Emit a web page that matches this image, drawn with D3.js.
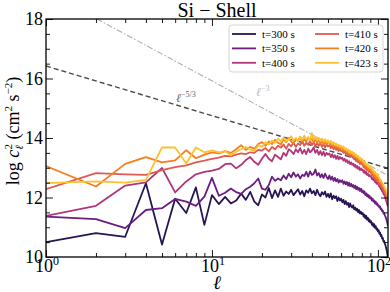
<!DOCTYPE html>
<html>
<head>
<meta charset="utf-8">
<script src="https://cdn.jsdelivr.net/npm/d3@7"></script>
<style>
  body { margin: 0; background: #fff; }
  text { font-family: "Liberation Serif", "DejaVu Serif", serif; fill: #000; }
</style>
</head>
<body>
<script>
// chart size and plot box
const width = 390;
const height = 292;
const plotMargins = {top: 19, right: 2, bottom: 35, left: 46};
const plotWidth = width - plotMargins.left - plotMargins.right;
const plotHeight = height - plotMargins.top - plotMargins.bottom;

// harmonic degree l = 1..115
const ell = d3.range(1, 116);

const seriesNames = ['t=300 s', 't=350 s', 't=400 s', 't=410 s', 't=420 s', 't=423 s'];
const seriesColors = ['#271454', '#6c1d80', '#b0367a', '#df5a52', '#f77d1e', '#fbc230'];

// log c_l^2, one value per l
const t300 = [10.50, 10.80, 10.68, 12.48, 10.42, 11.96, 11.48, 12.34, 11.08, 12.08,
  11.78, 12.02, 11.80, 11.90, 12.13, 11.92, 12.19, 11.86, 11.74, 12.10,
  12.00, 12.32, 11.98, 12.24, 12.02, 12.30, 12.06, 12.20, 12.12, 12.26,
  12.08, 12.18, 12.28, 12.10, 12.22, 12.04, 12.24, 12.16, 12.30, 12.14,
  12.22, 12.08, 12.26, 12.12, 12.04, 12.18, 12.10, 12.20, 12.02, 12.12,
  12.00, 12.14, 11.94, 12.06, 11.98, 12.04, 11.88, 12.00, 11.90, 11.96,
  11.84, 11.92, 11.78, 11.88, 11.76, 11.82, 11.68, 11.80, 11.70, 11.66,
  11.74, 11.60, 11.66, 11.56, 11.62, 11.50, 11.58, 11.46, 11.52, 11.44,
  11.48, 11.36, 11.42, 11.30, 11.38, 11.26, 11.32, 11.20, 11.26, 11.16,
  11.20, 11.08, 11.14, 11.02, 11.10, 10.98, 11.04, 10.92, 10.96, 10.86,
  10.90, 10.78, 10.82, 10.70, 10.74, 10.62, 10.64, 10.52, 10.54, 10.44,
  10.40, 10.30, 10.22, 10.10, 9.96];
const t350 = [11.36, 11.27, 10.97, 11.58, 11.64, 11.95, 11.86, 11.72, 12.03, 12.66,
  12.06, 12.16, 12.30, 12.18, 12.12, 12.28, 12.36, 12.48, 12.64, 12.30,
  12.26, 12.42, 12.70, 12.56, 12.64, 12.58, 12.74, 12.62, 12.80, 12.68,
  12.84, 12.70, 12.78, 12.64, 12.76, 12.72, 12.86, 12.70, 12.88, 12.76,
  12.80, 12.94, 12.74, 12.82, 12.68, 12.78, 12.66, 12.80, 12.70, 12.62,
  12.74, 12.60, 12.70, 12.56, 12.66, 12.54, 12.62, 12.50, 12.58, 12.52,
  12.58, 12.46, 12.54, 12.44, 12.52, 12.40, 12.50, 12.38, 12.46, 12.36,
  12.42, 12.32, 12.40, 12.28, 12.36, 12.26, 12.32, 12.22, 12.30, 12.18,
  12.24, 12.14, 12.20, 12.08, 12.14, 12.04, 12.10, 12.00, 12.06, 11.96,
  12.00, 11.90, 11.96, 11.86, 11.90, 11.80, 11.86, 11.76, 11.80, 11.72,
  11.74, 11.66, 11.70, 11.60, 11.62, 11.54, 11.56, 11.46, 11.48, 11.40,
  11.36, 11.30, 11.22, 11.14, 11.04];
const t400 = [11.38, 11.72, 12.40, 12.51, 12.99, 12.17, 12.54, 12.78, 12.86, 12.90,
  12.96, 13.12, 13.14, 12.98, 13.10, 13.26, 13.36, 13.20, 13.10, 13.30,
  13.46, 13.30, 13.22, 13.44, 13.36, 13.28, 13.50, 13.40, 13.62, 13.56,
  13.46, 13.62, 13.52, 13.66, 13.48, 13.60, 13.46, 13.64, 13.52, 13.58,
  13.68, 13.50, 13.60, 13.44, 13.56, 13.42, 13.54, 13.40, 13.50, 13.44,
  13.48, 13.36, 13.46, 13.34, 13.42, 13.30, 13.40, 13.28, 13.36, 13.30,
  13.34, 13.24, 13.30, 13.20, 13.26, 13.16, 13.22, 13.12, 13.18, 13.10,
  13.14, 13.04, 13.10, 13.00, 13.06, 12.96, 13.02, 12.92, 12.98, 12.92,
  12.94, 12.84, 12.90, 12.80, 12.86, 12.76, 12.80, 12.72, 12.76, 12.70,
  12.70, 12.62, 12.66, 12.58, 12.62, 12.52, 12.56, 12.46, 12.50, 12.46,
  12.42, 12.36, 12.38, 12.28, 12.30, 12.20, 12.22, 12.12, 12.10, 12.04,
  11.96, 11.90, 11.82, 11.76, 11.70];
const t410 = [12.28, 12.82, 12.78, 12.76, 12.92, 13.02, 13.08, 13.18, 13.24, 13.30,
  13.34, 13.40, 13.38, 13.44, 13.48, 13.46, 13.52, 13.50, 13.60, 13.58,
  13.66, 13.55, 13.70, 13.62, 13.74, 13.68, 13.78, 13.64, 13.80, 13.72,
  13.84, 13.70, 13.82, 13.76, 13.88, 13.74, 13.84, 13.78, 13.90, 13.76,
  13.86, 13.72, 13.84, 13.74, 13.82, 13.70, 13.80, 13.68, 13.78, 13.72,
  13.76, 13.66, 13.74, 13.62, 13.70, 13.60, 13.66, 13.56, 13.62, 13.56,
  13.58, 13.50, 13.56, 13.46, 13.50, 13.42, 13.46, 13.36, 13.42, 13.36,
  13.36, 13.28, 13.32, 13.22, 13.28, 13.18, 13.22, 13.12, 13.18, 13.12,
  13.10, 13.02, 13.06, 12.96, 13.02, 12.92, 12.96, 12.86, 12.90, 12.86,
  12.82, 12.74, 12.78, 12.68, 12.72, 12.62, 12.66, 12.56, 12.60, 12.58,
  12.52, 12.44, 12.46, 12.38, 12.40, 12.30, 12.32, 12.22, 12.22, 12.14,
  12.10, 12.02, 11.98, 11.92, 11.86];
const t420 = [13.06, 12.37, 13.13, 13.36, 13.18, 13.25, 13.59, 13.32, 13.44, 13.52,
  13.48, 13.56, 13.50, 13.62, 13.76, 13.60, 13.70, 13.64, 13.80, 13.86,
  13.74, 13.88, 13.80, 13.94, 13.84, 13.78, 13.96, 13.86, 14.00, 13.88,
  13.82, 13.98, 13.90, 14.04, 13.86, 13.96, 13.88, 14.02, 13.92, 13.98,
  13.86, 13.96, 13.84, 13.94, 13.82, 13.92, 13.80, 13.88, 13.78, 13.84,
  13.86, 13.76, 13.82, 13.72, 13.78, 13.68, 13.74, 13.64, 13.70, 13.66,
  13.66, 13.58, 13.62, 13.54, 13.58, 13.50, 13.54, 13.44, 13.50, 13.46,
  13.44, 13.36, 13.40, 13.32, 13.36, 13.26, 13.30, 13.20, 13.24, 13.22,
  13.18, 13.10, 13.14, 13.04, 13.08, 12.98, 13.02, 12.92, 12.96, 12.96,
  12.90, 12.82, 12.86, 12.76, 12.80, 12.70, 12.74, 12.64, 12.68, 12.70,
  12.62, 12.56, 12.58, 12.50, 12.50, 12.42, 12.42, 12.34, 12.34, 12.26,
  12.22, 12.16, 12.10, 12.04, 11.98];
const t423 = [12.48, 12.54, 12.50, 12.59, 13.68, 13.68, 13.14, 13.68, 13.52, 13.58,
  13.52, 13.56, 13.42, 13.54, 13.62, 13.70, 13.62, 13.56, 13.76, 13.70,
  13.86, 13.78, 13.92, 13.84, 13.98, 13.88, 14.02, 13.90, 13.96, 14.06,
  13.92, 14.00, 13.90, 14.04, 13.94, 14.08, 13.96, 14.02, 13.92, 14.16,
  13.94, 14.04, 13.92, 14.00, 13.90, 13.98, 13.88, 13.96, 13.86, 13.92,
  13.84, 13.90, 13.80, 13.86, 13.76, 13.82, 13.74, 13.78, 13.70, 13.74,
  13.68, 13.72, 13.62, 13.66, 13.58, 13.62, 13.52, 13.58, 13.50, 13.54,
  13.46, 13.50, 13.40, 13.44, 13.36, 13.40, 13.30, 13.34, 13.26, 13.30,
  13.22, 13.24, 13.14, 13.18, 13.10, 13.12, 13.04, 13.08, 13.00, 13.04,
  12.96, 12.98, 12.90, 12.92, 12.84, 12.86, 12.78, 12.80, 12.72, 12.78,
  12.68, 12.66, 12.58, 12.60, 12.54, 12.50, 12.46, 12.42, 12.38, 12.32,
  12.28, 12.24, 12.18, 12.14, 12.08];
const seriesValues = [t300, t350, t400, t410, t420, t423];

// reference power laws, end points at l = 1 and l = 115
const refEll = [1, 115];
const slope53 = [16.42, 12.98];
const slope3 = [18.92, 12.74];

// axis ticks
const xMajor = [1, 10, 100];
const xMinor = [2, 3, 4, 5, 6, 7, 8, 9, 20, 30, 40, 50, 60, 70, 80, 90];
const xLabelExp = ['0', '1', '2'];
const yMajor = [10, 12, 14, 16, 18];
const yMinor = [10.5, 11, 11.5, 12.5, 13, 13.5, 14.5, 15, 15.5, 16.5, 17, 17.5];

const svg = d3.select('body')
  .append('svg')
  .attr('width', width)
  .attr('height', height);

svg.append('rect').attr('width', width).attr('height', height).attr('fill', '#fff');

const x0 = plotMargins.left, x1 = plotMargins.left + plotWidth;
const y0 = plotMargins.top, y1 = plotMargins.top + plotHeight;

const xScale = d3.scaleLog().domain([1, 115]).range([x0, x1]);
const yScale = d3.scaleLinear().domain([10, 18]).range([y1, y0]);

svg.append('clipPath').attr('id', 'plotclip')
  .append('rect').attr('x', x0).attr('y', y0).attr('width', plotWidth).attr('height', plotHeight);

const plot = svg.append('g').attr('clip-path', 'url(#plotclip)');

// reference lines
const refLine = d3.line().x((d, i) => xScale(refEll[i])).y(d => yScale(d));
plot.append('path').attr('d', refLine(slope3))
  .attr('fill', 'none').attr('stroke', '#b0b0b0').attr('stroke-width', 1.1)
  .attr('stroke-dasharray', '6,2,1.5,2');
plot.append('path').attr('d', refLine(slope53))
  .attr('fill', 'none').attr('stroke', '#4a4a4a').attr('stroke-width', 1.4)
  .attr('stroke-dasharray', '5,3');

// spectra
const specLine = d3.line().x((d, i) => xScale(ell[i])).y(d => yScale(d));
seriesValues.forEach((vals, k) => {
  plot.append('path').attr('d', specLine(vals))
    .attr('fill', 'none')
    .attr('stroke', seriesColors[k])
    .attr('stroke-width', 1.8)
    .attr('stroke-linejoin', 'round');
});

// reference line labels
const lab53 = svg.append('text').attr('x', 176).attr('y', 102).style('font-size', '12px').style('fill', '#666');
lab53.append('tspan').style('font-style', 'italic').style('fill', '#666').text('ℓ');
lab53.append('tspan').attr('dy', -5).style('font-size', '8px').style('fill', '#666').text('−5/3');
const lab3 = svg.append('text').attr('x', 256).attr('y', 96).style('font-size', '12px').style('fill', '#bbb');
lab3.append('tspan').style('font-style', 'italic').style('fill', '#bbb').text('ℓ');
lab3.append('tspan').attr('dy', -5).style('font-size', '8px').style('fill', '#bbb').text('−3');

// ticks pointing inwards on all four sides
function tickGroup(axis, tx, ty) {
  const g = svg.append('g').attr('transform', `translate(${tx},${ty})`).call(axis);
  g.select('.domain').remove();
  g.selectAll('line').attr('stroke', '#000').attr('stroke-width', 0.9);
  g.selectAll('text').remove();
  return g;
}
tickGroup(d3.axisBottom(xScale).tickValues(xMajor).tickSize(-7), 0, y1);
tickGroup(d3.axisBottom(xScale).tickValues(xMinor).tickSize(-4), 0, y1);
tickGroup(d3.axisTop(xScale).tickValues(xMajor).tickSize(-7), 0, y0);
tickGroup(d3.axisTop(xScale).tickValues(xMinor).tickSize(-4), 0, y0);
tickGroup(d3.axisLeft(yScale).tickValues(yMajor).tickSize(-7), x0, 0);
tickGroup(d3.axisLeft(yScale).tickValues(yMinor).tickSize(-4), x0, 0);
tickGroup(d3.axisRight(yScale).tickValues(yMajor).tickSize(-7), x1, 0);
tickGroup(d3.axisRight(yScale).tickValues(yMinor).tickSize(-4), x1, 0);

// frame
svg.append('rect').attr('x', x0).attr('y', y0).attr('width', plotWidth).attr('height', plotHeight)
  .attr('fill', 'none').attr('stroke', '#000').attr('stroke-width', 1.3);

// tick labels
xMajor.forEach((v, i) => {
  const t = svg.append('text').attr('x', xScale(v) + 1).attr('y', 272)
    .attr('text-anchor', 'middle').style('font-size', '18px');
  t.append('tspan').text('10');
  t.append('tspan').attr('dy', -7).style('font-size', '12px').text(xLabelExp[i]);
});
yMajor.forEach(v => {
  svg.append('text').attr('x', x0 - 3).attr('y', yScale(v) + 6)
    .attr('text-anchor', 'end').style('font-size', '18px').text(v);
});

// title and axis labels
svg.append('text').attr('x', (x0 + x1) / 2).attr('y', 16.5).attr('text-anchor', 'middle')
  .style('font-size', '20px').text('Si − Shell');

svg.append('text').attr('x', (x0 + x1) / 2).attr('y', 289).attr('text-anchor', 'middle')
  .style('font-size', '19px').style('font-style', 'italic').text('ℓ');

const yl = svg.append('text').attr('transform', 'translate(19,131) rotate(-90)')
  .attr('text-anchor', 'middle').style('font-size', '18px');
yl.append('tspan').text('log ');
yl.append('tspan').style('font-style', 'italic').text('c');
yl.append('tspan').attr('dy', 4).style('font-size', '11px').style('font-style', 'italic').text('ℓ');
yl.append('tspan').attr('dx', -4.5).attr('dy', -11).style('font-size', '11px').text('2');
yl.append('tspan').attr('dy', 7).text(' (cm');
yl.append('tspan').attr('dy', -7).style('font-size', '11px').text('2');
yl.append('tspan').attr('dy', 7).text(' s');
yl.append('tspan').attr('dy', -7).style('font-size', '11px').text('−2');
yl.append('tspan').attr('dy', 7).text(')');

// legend
const legend = svg.append('g');
legend.append('rect').attr('x', 229).attr('y', 25).attr('width', 154).attr('height', 47)
  .attr('rx', 3).attr('fill', '#fff').attr('fill-opacity', 0.85)
  .attr('stroke', '#d0d0d0').attr('stroke-width', 0.9);
seriesNames.forEach((name, k) => {
  const col = Math.floor(k / 3), row = k % 3;
  const lx = col === 0 ? 232 : 315;
  const ly = 34 + row * 14.4;
  legend.append('line').attr('x1', lx).attr('x2', lx + 24).attr('y1', ly).attr('y2', ly)
    .attr('stroke', seriesColors[k]).attr('stroke-width', 1.8);
  legend.append('text').attr('x', lx + 30).attr('y', ly + 3.8)
    .style('font-size', '11px').text(name);
});
</script>
</body>
</html>
